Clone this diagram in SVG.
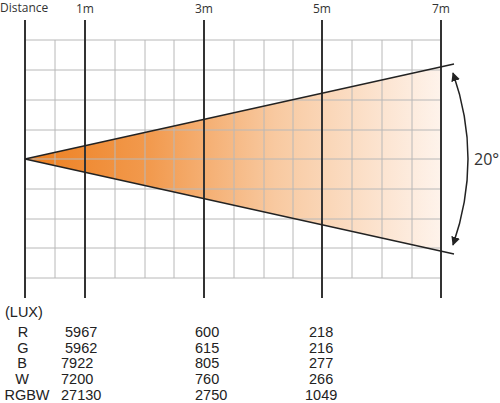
<svg xmlns="http://www.w3.org/2000/svg" width="500" height="403" viewBox="0 0 500 403">
<style>
.grid{stroke:#b8b8b8;stroke-width:1;fill:none}
.axis{stroke:#333;stroke-width:2}
.top{font-family:"Open Sans","DejaVu Sans",sans-serif;font-size:12px;fill:#333}
.val{font-family:"Liberation Sans",Arial,sans-serif;font-size:14.5px;fill:#222}
.lbl{font-family:"Liberation Sans",Arial,sans-serif;font-size:14.5px;fill:#222;text-anchor:middle}
</style>
<defs>
<linearGradient id="beam" gradientUnits="userSpaceOnUse" x1="25" y1="0" x2="441" y2="0">
<stop offset="0" stop-color="#ED7F1F"/>
<stop offset="0.3" stop-color="#F29A4E"/>
<stop offset="0.6" stop-color="#F8C9A0"/>
<stop offset="1" stop-color="#FEF3EB"/>
</linearGradient>
<marker id="ah" viewBox="0 0 10 10" refX="9" refY="5" markerWidth="9" markerHeight="9" markerUnits="userSpaceOnUse" orient="auto-start-reverse">
<path d="M0,0 L10,5 L0,10 Z" fill="#222"/>
</marker>
</defs>
<rect width="500" height="403" fill="#fff"/>
<g id="beam-fill">
<polygon points="25,159 441,67 441,251" fill="url(#beam)"/>
</g>
<g id="grid" class="grid">
<path d="M25,40H441 M25,70H441 M25,100H441 M25,130H441 M25,159H441 M25,189H441 M25,219H441 M25,248H441 M25,278H441"/>
<path d="M55,40V278 M115,40V278 M145,40V278 M174,40V278 M234,40V278 M264,40V278 M293,40V278 M352,40V278 M382,40V278 M412,40V278"/>
</g>
<g id="axes" class="axis">
<line x1="25" y1="20" x2="25" y2="298"/>
<line x1="85" y1="20" x2="85" y2="298"/>
<line x1="204" y1="20" x2="204" y2="298"/>
<line x1="322" y1="20" x2="322" y2="298"/>
<line x1="441" y1="20" x2="441" y2="298"/>
</g>
<g id="beam-edges" stroke="#222" stroke-width="1.4">
<line x1="25" y1="159" x2="454" y2="64"/>
<line x1="25" y1="159" x2="454" y2="254"/>
</g>
<g id="angle">
<path d="M453,73 Q483,159 453,245" fill="none" stroke="#222" stroke-width="1.5" marker-start="url(#ah)" marker-end="url(#ah)"/>
<text x="474" y="165" font-family="'Open Sans','DejaVu Sans',sans-serif" font-size="16" fill="#333">20°</text>
</g>
<g id="distance-labels" class="top">
<text x="0" y="12">Distance</text>
<text x="85" y="13" text-anchor="middle">1m</text>
<text x="204" y="13" text-anchor="middle">3m</text>
<text x="322" y="13" text-anchor="middle">5m</text>
<text x="441" y="13" text-anchor="middle">7m</text>
</g>
<g id="lux-table">
<text class="val" x="5" y="317">(LUX)</text>
<text class="lbl" x="23" y="337">R</text>
<text class="lbl" x="23" y="353">G</text>
<text class="lbl" x="22" y="368">B</text>
<text class="lbl" x="22" y="384">W</text>
<text class="lbl" x="27" y="400">RGBW</text>
<text class="val" x="65" y="337">5967</text>
<text class="val" x="65" y="353">5962</text>
<text class="val" x="61" y="368">7922</text>
<text class="val" x="61" y="384">7200</text>
<text class="val" x="61" y="400">27130</text>
<text class="val" x="195" y="337">600</text>
<text class="val" x="195" y="353">615</text>
<text class="val" x="195" y="368">805</text>
<text class="val" x="195" y="384">760</text>
<text class="val" x="195" y="400">2750</text>
<text class="val" x="309" y="337">218</text>
<text class="val" x="309" y="353">216</text>
<text class="val" x="309" y="368">277</text>
<text class="val" x="309" y="384">266</text>
<text class="val" x="305" y="400">1049</text>
</g>
</svg>
